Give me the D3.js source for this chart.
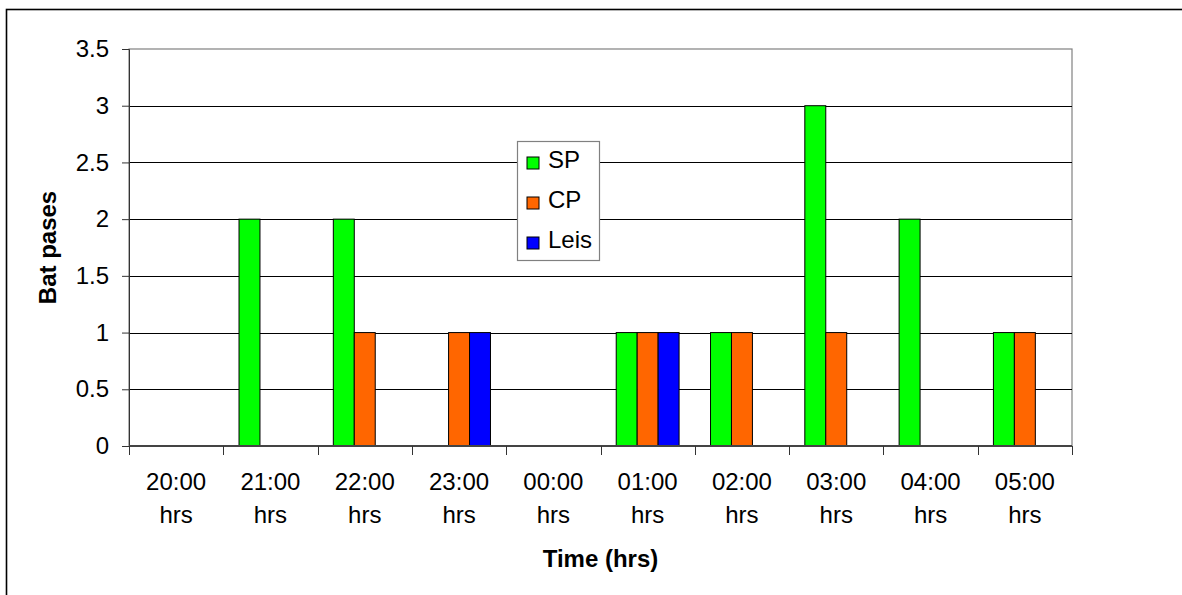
<!DOCTYPE html>
<html>
<head>
<meta charset="utf-8">
<script src="https://cdn.jsdelivr.net/npm/d3@7"></script>
<style>
  body { margin: 0; background: #fff; }
  svg text { font-family: "Liberation Sans", Arial, sans-serif; fill: #000; }
</style>
</head>
<body>
<div class="canvas"></div>
<script>
// data
const hours = ["20:00", "21:00", "22:00", "23:00", "00:00", "01:00", "02:00", "03:00", "04:00", "05:00"];
const seriesNames = ["SP", "CP", "Leis"];
const sp = [0, 2, 2, 0, 0, 1, 1, 3, 2, 1];
const cp = [0, 0, 1, 1, 0, 1, 1, 1, 0, 1];
const leis = [0, 0, 0, 1, 0, 1, 0, 0, 0, 0];
const yTicks = [0, 0.5, 1, 1.5, 2, 2.5, 3, 3.5];
const colours = { SP: "#00ff00", CP: "#ff6600", Leis: "#0000ff" };

const w = 1182;
const h = 595;
const margin = { top: 49, right: 110, bottom: 149, left: 129 };
const graphWidth = w - margin.left - margin.right;
const graphHeight = h - margin.top - margin.bottom;

const rows = hours.map((hr, i) => ({ hr, SP: sp[i], CP: cp[i], Leis: leis[i] }));

const svg = d3.select(".canvas").append("svg").attr("width", w).attr("height", h);

// outer chart border (runs off the right / bottom edge)
svg.append("rect")
  .attr("x", 6.5).attr("y", 9.5)
  .attr("width", 1300).attr("height", 800)
  .attr("fill", "none").attr("stroke", "#000").attr("stroke-width", 1.6);

const graph = svg.append("g").attr("transform", `translate(${margin.left}, ${margin.top})`);

const x0 = d3.scaleBand().domain(hours).range([0, graphWidth]);
const bw = x0.bandwidth();
// gap width 150% -> bars take 3 / 4.5 of each band
const x1 = d3.scaleBand().domain(seriesNames).range([bw * 0.75 / 4.5, bw - bw * 0.75 / 4.5]);
const y = d3.scaleLinear().domain([0, 3.5]).range([graphHeight, 0]);

// plot area border
graph.append("rect")
  .attr("width", graphWidth).attr("height", graphHeight)
  .attr("fill", "none").attr("stroke", "#808080").attr("stroke-width", 1.2);

// gridlines
graph.append("g")
  .selectAll("line")
  .data(yTicks.filter((t) => t > 0 && t < 3.5))
  .join("line")
  .attr("x1", 0).attr("x2", graphWidth)
  .attr("y1", (d) => Math.round(y(d)) + 0.5).attr("y2", (d) => Math.round(y(d)) + 0.5)
  .attr("stroke", "#000").attr("stroke-width", 1);

// bars
graph.append("g")
  .selectAll("g")
  .data(rows)
  .join("g")
  .attr("transform", (d) => `translate(${x0(d.hr)},0)`)
  .selectAll("rect")
  .data((d) => seriesNames.map((k) => ({ key: k, value: d[k] })).filter((d) => d.value > 0))
  .join("rect")
  .attr("x", (d) => x1(d.key))
  .attr("width", x1.bandwidth())
  .attr("y", (d) => y(d.value))
  .attr("height", (d) => y(0) - y(d.value))
  .attr("fill", (d) => colours[d.key])
  .attr("stroke", "#000").attr("stroke-width", 1);

// y axis
const yAxis = graph.append("g")
  .call(d3.axisLeft(y).tickValues(yTicks).tickSize(7).tickPadding(13).tickFormat((d) => d));
yAxis.select(".domain").attr("stroke", "#333");
yAxis.selectAll(".tick line").attr("stroke", "#333");
yAxis.selectAll("text").attr("font-size", 24).attr("font-family", null);

// x axis: ticks on the band edges
const xAxis = graph.append("g").attr("transform", `translate(0, ${graphHeight})`);
xAxis.append("line")
  .attr("x1", 0).attr("x2", graphWidth)
  .attr("stroke", "#444").attr("stroke-width", 2);
xAxis.selectAll(".edge")
  .data(hours.concat(["end"]))
  .join("line")
  .attr("class", "edge")
  .attr("x1", (d, i) => Math.round(i * bw) + 0.5).attr("x2", (d, i) => Math.round(i * bw) + 0.5)
  .attr("y1", 0).attr("y2", 9)
  .attr("stroke", "#333");
const labels = xAxis.selectAll(".lbl")
  .data(hours)
  .join("text")
  .attr("class", "lbl")
  .attr("text-anchor", "middle")
  .attr("font-size", 24)
  .attr("x", (d) => x0(d) + bw / 2);
labels.append("tspan").attr("x", (d) => x0(d) + bw / 2).attr("y", 44).text((d) => d);
labels.append("tspan").attr("x", (d) => x0(d) + bw / 2).attr("y", 77).text("hrs");

// axis titles
svg.append("text")
  .attr("x", margin.left + graphWidth / 2).attr("y", 567)
  .attr("text-anchor", "middle")
  .attr("font-size", 24).attr("font-weight", "bold")
  .text("Time (hrs)");

svg.append("text")
  .attr("transform", `translate(56, ${margin.top + graphHeight / 2}) rotate(-90)`)
  .attr("text-anchor", "middle")
  .attr("font-size", 24).attr("font-weight", "bold")
  .text("Bat pases");

// legend
const legend = svg.append("g").attr("transform", "translate(517, 141)");
legend.append("rect")
  .attr("x", 0.5).attr("y", 0.5).attr("width", 82).attr("height", 119)
  .attr("fill", "#fff").attr("stroke", "#808080").attr("stroke-width", 1.2);
const items = legend.selectAll(".item")
  .data(seriesNames)
  .join("g")
  .attr("class", "item")
  .attr("transform", (d, i) => `translate(0, ${22 + i * 40})`);
items.append("rect")
  .attr("x", 10).attr("y", -6).attr("width", 12).attr("height", 12)
  .attr("fill", (d) => colours[d]).attr("stroke", "#000").attr("stroke-width", 1);
items.append("text")
  .attr("x", 31).attr("y", 5)
  .attr("font-size", 24)
  .text((d) => d);
</script>
</body>
</html>
